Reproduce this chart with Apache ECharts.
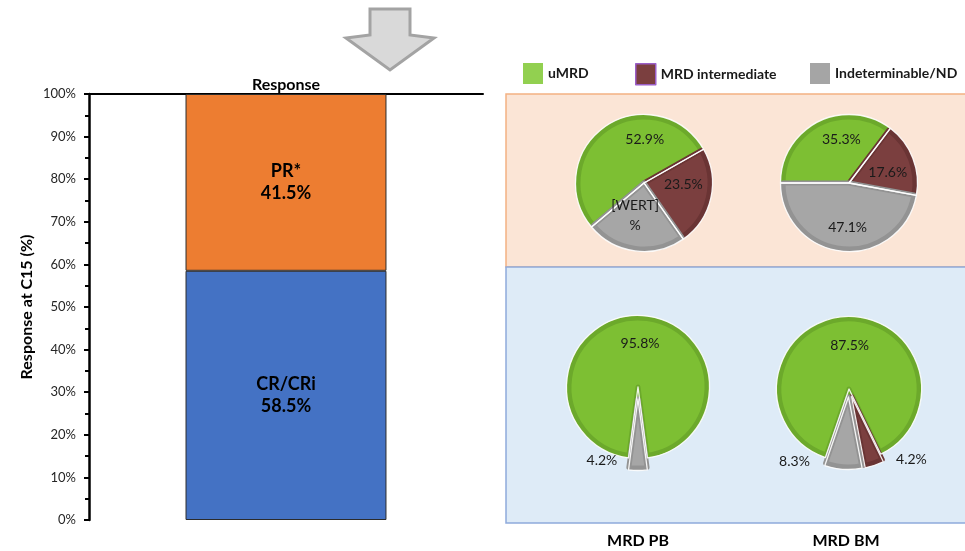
<!DOCTYPE html>
<html>
<head>
<meta charset="utf-8">
<script src="https://cdn.jsdelivr.net/npm/echarts@6/dist/echarts.min.js"></script>
<style>
  html, body { margin: 0; padding: 0; background: #ffffff; }
  #chart { width: 965px; height: 551px; }
</style>
</head>
<body>
<div id="chart"></div>
<script>
// ---- Response at C15 (stacked bar) ----
const responseCategories = ['Response'];
const crCriValues = [58.5];
const prValues = [41.5];

// ---- MRD status by sample type ----
const mrdClasses = ['uMRD', 'MRD intermediate', 'Indeterminable/ND'];
const mrdPanels = ['MRD PB', 'MRD BM'];
// PR* group
const prPbValues = [52.9, 23.5, 23.6];
const prPbLabels = ['52.9%', '23.5%', '[WERT]\n%'];
const prBmValues = [35.3, 17.6, 47.1];
// CR/CRi group
const crPbValues = [95.8, 0, 4.2];
const crBmValues = [87.5, 4.2, 8.3];

const FONT = 'Lato, "Open Sans", "DejaVu Sans", sans-serif';

// slice fill and rim shades, in mrdClasses order
const sliceFill = ['#7DBF33', '#7B3F3F', '#A6A6A6'];
const sliceRim = ['#6CA92B', '#6A3434', '#939393'];

// where each pie sits and how its slices are arranged
const pieLayouts = [
  { values: prPbValues, labels: prPbLabels, center: [644, 183], r: 68, start: 220, offset: 0, explode: [],
    labelOffsets: [[22, -13], [3, -7], [-4, -4]] },
  { values: prBmValues, labels: null, center: [849, 183], r: 68, start: 180, offset: 0, explode: [],
    labelOffsets: [[9, -10], [4, 3], [2, 7]] },
  { values: crPbValues, labels: null, center: [638, 387], r: 71, start: 262.4, offset: 12, explode: [2],
    labelOffsets: [[2, -5], [0, 0], [-36, 26]] },
  { values: crBmValues, labels: null, center: [849, 389], r: 72, start: 251, offset: 8, explode: [1, 2],
    labelOffsets: [[3, -4], [44, 27], [-49, 28]] }
];

function pieSeries(cfg) {
  const items = [];
  cfg.values.forEach((v, i) => { if (v > 0) items.push({ i: i, v: v }); });
  const common = {
    type: 'pie',
    center: cfg.center,
    startAngle: cfg.start,
    clockwise: true,
    avoidLabelOverlap: false,
    selectedMode: 'multiple',
    selectedOffset: cfg.offset,
    animation: false,
    emphasis: { disabled: true },
    labelLine: { show: false },
    z: 3
  };
  // filled slices with a darker rim
  const body = Object.assign({}, common, {
    radius: cfg.r - 2,
    label: { show: false },
    data: items.map(d => ({
      name: mrdClasses[d.i],
      value: d.v,
      selected: cfg.explode.includes(d.i),
      itemStyle: { color: sliceFill[d.i], borderColor: sliceRim[d.i], borderWidth: 5, borderJoin: 'round' },
      select: { itemStyle: { color: sliceFill[d.i], borderColor: sliceRim[d.i], borderWidth: 5 } }
    }))
  });
  // light separators between slices, plus the value labels
  const labelBase = {
    show: true, position: 'inside', fontSize: 14, color: '#1a1a1a',
    fontFamily: FONT, lineHeight: 20
  };
  const edge = Object.assign({}, common, {
    radius: cfg.r + 0.5,
    z: 4,
    label: labelBase,
    data: items.map(d => {
      const lbl = Object.assign({}, labelBase, {
        formatter: cfg.labels ? cfg.labels[d.i] : d.v.toFixed(1) + '%',
        offset: cfg.labelOffsets[d.i]
      });
      return {
        name: mrdClasses[d.i],
        value: d.v,
        selected: cfg.explode.includes(d.i),
        itemStyle: { color: 'rgba(0,0,0,0)', borderColor: 'rgba(255,255,255,0.9)', borderWidth: 1.3 },
        label: lbl,
        select: {
          itemStyle: { color: 'rgba(0,0,0,0)', borderColor: 'rgba(255,255,255,0.9)', borderWidth: 1.3 },
          label: lbl
        }
      };
    })
  });
  return [body, edge];
}

const legendX = [523, 635, 810];
const legendIcon = [
  { color: '#92D050', borderWidth: 0 },
  { color: '#7B3F3F', borderColor: '#9B5FC8', borderWidth: 1.5 },
  { color: '#A5A5A5', borderWidth: 0 }
];

const chart = echarts.init(document.getElementById('chart'), null, { renderer: 'canvas' });

const barLabel = {
  show: true, position: 'inside', fontSize: 18, fontWeight: 'bold', color: '#000',
  lineHeight: 22, fontFamily: FONT
};

const option = {
  animation: false,
  backgroundColor: '#ffffff',
  textStyle: { fontFamily: FONT },
  grid: { left: 89, right: 482, top: 94, bottom: 31, containLabel: false },
  xAxis: {
    type: 'category',
    position: 'top',
    data: responseCategories,
    axisLine: { show: true, onZero: false, lineStyle: { color: '#000', width: 2 } },
    axisTick: { show: false },
    axisLabel: { fontSize: 16, fontWeight: 'bold', color: '#000', margin: 1, fontFamily: FONT },
    splitLine: { show: false }
  },
  yAxis: {
    type: 'value',
    min: 0,
    max: 100,
    interval: 10,
    name: 'Response at C15 (%)',
    nameLocation: 'middle',
    nameGap: 54,
    nameTextStyle: { fontSize: 16, fontWeight: 'bold', color: '#000', fontFamily: FONT },
    axisLine: { show: true, lineStyle: { color: '#000', width: 2.5 } },
    axisTick: { show: true, length: 5, lineStyle: { color: '#000', width: 2 } },
    minorTick: { show: true, splitNumber: 2, length: 4, lineStyle: { color: '#000', width: 2 } },
    splitLine: { show: false },
    axisLabel: { formatter: '{value}%', fontSize: 13, color: '#262626', margin: 13, fontFamily: FONT }
  },
  legend: mrdClasses.map((name, i) => ({
    left: legendX[i],
    top: 63,
    padding: 0,
    icon: 'rect',
    itemWidth: 20,
    itemHeight: 21,
    selectedMode: false,
    textStyle: { fontSize: 14, fontWeight: 'bold', color: '#1a1a1a', fontFamily: FONT },
    data: [{ name: name, itemStyle: legendIcon[i] }]
  })),
  title: mrdPanels.map((t, i) => ({
    text: t,
    left: [638, 846][i],
    top: 533,
    textAlign: 'center',
    padding: 0,
    textStyle: { fontSize: 16, fontWeight: 'bold', color: '#000', fontFamily: FONT }
  })),
  graphic: [
    // arrow between the two parts
    {
      type: 'polygon', z: 1,
      shape: { points: [[370, 9], [410, 9], [410, 35], [434, 38], [390, 70], [346, 38], [370, 35]] },
      style: { fill: '#D9D9D9', stroke: '#A3A3A3', lineWidth: 3, lineJoin: 'miter' }
    },
    // PR* panel
    {
      type: 'rect', z: 0,
      shape: { x: 506, y: 94, width: 470, height: 173 },
      style: { fill: '#FBE5D6', stroke: '#F4B183', lineWidth: 1.5 }
    },
    // CR/CRi panel
    {
      type: 'rect', z: 0,
      shape: { x: 506, y: 267, width: 470, height: 256 },
      style: { fill: '#DEEBF7', stroke: '#8FAADC', lineWidth: 1.5 }
    }
  ],
  series: [
    {
      type: 'bar',
      name: 'CR/CRi',
      stack: 'response',
      data: crCriValues,
      barWidth: '51%',
      itemStyle: { color: '#4472C4', borderColor: '#2b2b2b', borderWidth: 1 },
      label: Object.assign({}, barLabel, { formatter: p => 'CR/CRi\n' + p.value.toFixed(1) + '%' })
    },
    {
      type: 'bar',
      name: 'PR*',
      stack: 'response',
      data: prValues,
      barWidth: '51%',
      itemStyle: { color: '#ED7D31', borderColor: '#2b2b2b', borderWidth: 1 },
      label: Object.assign({}, barLabel, { formatter: p => 'PR*\n' + p.value.toFixed(1) + '%' })
    }
  ].concat(...pieLayouts.map(pieSeries))
};

chart.setOption(option);
</script>
</body>
</html>
